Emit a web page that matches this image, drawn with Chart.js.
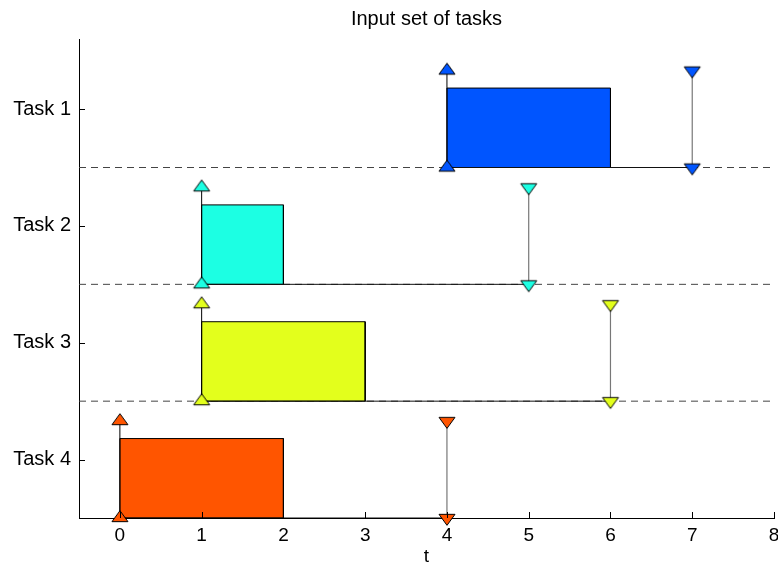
<!DOCTYPE html>
<html>
<head>
<meta charset="utf-8">
<script src="https://cdn.jsdelivr.net/npm/chart.js@4/dist/chart.umd.min.js"></script>
<style>
  html, body { margin: 0; padding: 0; background: #fff; overflow: hidden; width: 778px; height: 566px; }
  #wrap { width: 790px; height: 566px; }
</style>
</head>
<body>
<div id="wrap"><canvas id="c" width="790" height="566"></canvas></div>
<script>
// Task set: release time, execution time, deadline
const taskNames    = ['Task 1', 'Task 2', 'Task 3', 'Task 4'];
const releaseTimes = [4, 1, 1, 0];
const execTimes    = [2, 1, 2, 2];
const deadlines    = [7, 5, 6, 4];
const baseLevels   = [3, 2, 1, 0];
const taskColors   = ['#0055FF', '#1CFFE3', '#E3FF1C', '#FF5500'];
const barHeight    = 0.68;   // height of the execution box within a row
const arrowHeight  = 0.83;   // height of release / deadline arrows
const rowBounds    = [1, 2, 3];
const xTicks       = [0, 1, 2, 3, 4, 5, 6, 7, 8];
const yTickValues  = [3.5, 2.5, 1.5, 0.5];

const FONT = '"Liberation Sans", Arial, Helvetica, sans-serif';

// Flattened triangle marker, centred on its centroid like the classic plotting markers
function triangleMarker(color, up) {
  const c = document.createElement('canvas');
  const W = 20, H = 18, cx = 10, cy = 9, hw = 8, th = 11;
  c.width = W; c.height = H;
  const g = c.getContext('2d');
  g.beginPath();
  if (up) {
    g.moveTo(cx, cy - th * 2 / 3);
    g.lineTo(cx + hw, cy + th / 3);
    g.lineTo(cx - hw, cy + th / 3);
  } else {
    g.moveTo(cx, cy + th * 2 / 3);
    g.lineTo(cx + hw, cy - th / 3);
    g.lineTo(cx - hw, cy - th / 3);
  }
  g.closePath();
  g.fillStyle = color;
  g.fill();
  g.lineWidth = 1;
  g.strokeStyle = '#000';
  g.stroke();
  return c;
}

const datasets = [];

// dashed separators between rows
rowBounds.forEach(b => {
  datasets.push({
    data: [{ x: -0.5, y: b }, { x: 8, y: b }],
    showLine: true, pointRadius: 0, borderColor: '#444', borderWidth: 1,
    borderDash: [7, 5], order: 5
  });
});

taskNames.forEach((name, i) => {
  const r = releaseTimes[i], e = execTimes[i], d = deadlines[i], b = baseLevels[i];
  const col = taskColors[i];
  // execution box
  datasets.push({
    data: [{ x: r, y: b }, { x: r, y: b + barHeight }, { x: r + e, y: b + barHeight },
           { x: r + e, y: b }, { x: r, y: b }],
    showLine: true, fill: 'shape', backgroundColor: col, borderColor: '#000',
    borderWidth: 1, pointRadius: 0, order: 3
  });
  // line from release to deadline along the row base
  datasets.push({
    data: [{ x: r, y: b }, { x: d, y: b }],
    showLine: true, pointRadius: 0, borderColor: '#111', borderWidth: 1, order: 2
  });
  // release arrow shaft
  datasets.push({
    data: [{ x: r, y: b }, { x: r, y: b + arrowHeight }],
    showLine: true, pointRadius: 0, borderColor: '#000', borderWidth: 1, order: 2
  });
  // deadline arrow shaft
  datasets.push({
    data: [{ x: d, y: b }, { x: d, y: b + arrowHeight }],
    showLine: true, pointRadius: 0, borderColor: '#777', borderWidth: 1.2, order: 2
  });
  // arrow heads
  const up = triangleMarker(col, true), down = triangleMarker(col, false);
  datasets.push({
    data: [{ x: r, y: b + arrowHeight }, { x: d, y: b + arrowHeight },
           { x: r, y: b }, { x: d, y: b }],
    showLine: false, pointStyle: [up, down, up, down], pointRadius: 8,
    clip: false, order: 1
  });
});

// inward tick marks on both axes
const innerTicks = {
  id: 'innerTicks',
  afterDraw(chart) {
    const { ctx, chartArea: a, scales: { x, y } } = chart;
    ctx.save();
    ctx.strokeStyle = '#000';
    ctx.lineWidth = 1;
    ctx.beginPath();
    x.ticks.forEach(t => {
      const px = Math.round(x.getPixelForValue(t.value)) + 0.5;
      ctx.moveTo(px, a.bottom);
      ctx.lineTo(px, a.bottom - 6);
    });
    y.ticks.forEach(t => {
      const py = Math.round(y.getPixelForValue(t.value)) + 0.5;
      ctx.moveTo(a.left, py);
      ctx.lineTo(a.left + 6, py);
    });
    ctx.stroke();
    ctx.restore();
  }
};

new Chart(document.getElementById('c'), {
  type: 'scatter',
  data: { datasets },
  plugins: [innerTicks],
  options: {
    responsive: false,
    animation: false,
    devicePixelRatio: 1,
    layout: { padding: { left: 0, right: 16, top: 0, bottom: 0 } },
    plugins: {
      legend: { display: false },
      tooltip: { enabled: false }
    },
    scales: {
      x: {
        type: 'linear', min: -0.5, max: 8,
        afterBuildTicks: s => { s.ticks = xTicks.map(v => ({ value: v })); },
        afterFit: s => { s.height = 48; },
        grid: { drawOnChartArea: false, drawTicks: false },
        border: { display: true, color: '#000', width: 1 },
        ticks: { color: '#000', padding: 6, font: { family: FONT, size: 19 } },
        title: { display: true, text: 't', color: '#000',
                 font: { family: FONT, size: 19, lineHeight: 1 },
                 padding: { top: 0, bottom: 0 } }
      },
      // top axis only carries the plot title, centred over the plot area
      top: {
        type: 'linear', axis: 'x', position: 'top', min: -0.5, max: 8,
        afterFit: s => { s.height = 39; },
        grid: { display: false, drawTicks: false },
        border: { display: false },
        ticks: { display: false },
        title: { display: true, text: 'Input set of tasks', color: '#000',
                 font: { family: FONT, size: 20 }, padding: { top: 7, bottom: 0 } }
      },
      y: {
        type: 'linear', min: 0, max: 4.1,
        afterBuildTicks: s => { s.ticks = yTickValues.map(v => ({ value: v })); },
        afterFit: s => { s.width = 79; },
        grid: { drawOnChartArea: false, drawTicks: false },
        border: { display: true, color: '#000', width: 1 },
        ticks: {
          color: '#000', padding: 8, font: { family: FONT, size: 20 },
          callback: v => taskNames[yTickValues.indexOf(v)]
        }
      }
    }
  }
});
</script>
</body>
</html>
